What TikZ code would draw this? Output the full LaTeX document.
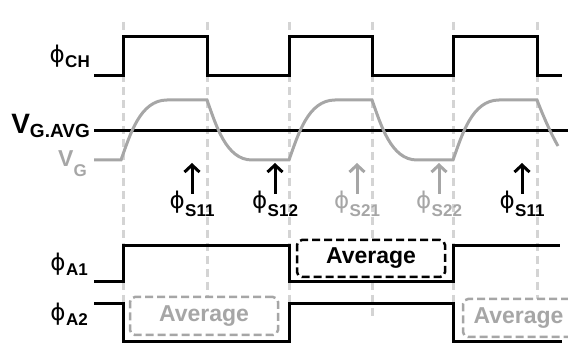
\documentclass[tikz,border=0pt]{standalone}
\usepackage{fontspec}
\setmainfont{Liberation Sans}
\newfontfamily\phifont{DejaVu Sans}
\usetikzlibrary{arrows.meta}
\definecolor{wgray}{HTML}{A6A6A6}
\definecolor{lgray}{HTML}{D4D4D4}
\newcommand{\PhiSub}[2][5pt]{{\phifont\fontsize{23}{23}\selectfont ϕ}\kern0.5pt\raisebox{-#1}{\fontsize{17}{17}\selectfont\bfseries #2}}
\begin{document}
\begin{tikzpicture}[x=1pt,y=-1pt,
  guide/.style={draw=lgray,line width=3pt,dash pattern=on 8pt off 5pt},
  wave/.style={draw=black,line width=3pt,line join=miter},
  gwave/.style={draw=wgray,line width=3pt},
  arr/.style={line width=3pt,-{Straight Barb[length=7pt,width=15pt]}},
  lbl/.style={inner sep=0pt,anchor=base east},
  slbl/.style={inner sep=0pt,anchor=base},
  avgbox/.style={draw,fill=white,rounded corners=5pt,line width=2.5pt,dash pattern=on 8pt off 4pt,
     minimum height=38pt,inner sep=0pt,font=\fontsize{23}{23}\selectfont\bfseries}]
\useasboundingbox (0,0) rectangle (568,347);
\clip (0,0) rectangle (568,347);
% guide lines
\foreach \x in {123,207,289,372,453,537} \draw[guide] (\x,22) -- (\x,318);
% phi CH
\draw[wave] (94,76) -- (123,76) -- (123,37) -- (207,37) -- (207,76) -- (289,76) -- (289,37) -- (372,37) -- (372,76) -- (453,76) -- (453,37) -- (537,37) -- (537,76) -- (562,76);
% V_G average
\draw[wave] (94,131) -- (568,131);
% V_G
\draw[gwave] (94,160) -- (121,160) .. controls (130,135) and (140,100) .. (167,100) -- (207,100)
  .. controls (216,125) and (226,160) .. (252,160) -- (289,160)
  .. controls (298,135) and (308,100) .. (335,100) -- (372,100)
  .. controls (381,125) and (391,160) .. (417,160) -- (453,160)
  .. controls (462,135) and (472,100) .. (499,100) -- (537,100)
  .. controls (542,113) and (550,132) .. (558,146);
% phi A1, A2
\draw[wave] (94,282) -- (123,282) -- (123,246) -- (289,246) -- (289,282) -- (453,282) -- (453,246) -- (560,246);
\draw[wave] (94,304) -- (123,304) -- (123,342) -- (289,342) -- (289,304) -- (453,304) -- (453,342) -- (562,342);
% left labels
\node[lbl] (lch) at (90,63) {\PhiSub{CH}};
\node[lbl] (lavg) at (90,134) {{\fontsize{28}{28}\selectfont\bfseries V}\raisebox{-4pt}{\fontsize{19}{19}\selectfont\bfseries G.AVG}};
\node[lbl,text=wgray] (lvg) at (87,167) {{\fontsize{23}{23}\selectfont\bfseries V}\raisebox{-10pt}{\fontsize{17}{17}\selectfont\bfseries G}};
\node[lbl] (la1) at (88,271) {\PhiSub{A1}};
\node[lbl] (la2) at (88,321) {\PhiSub{A2}};
% sampling arrows
\foreach \x/\n/\c/\s in {192/1/black/S11,275/2/black/S12,357/3/wgray/S21,439/4/wgray/S22,522/5/black/S11}{
  \coordinate (ab\n) at (\x,194);
  \coordinate (at\n) at (\x,163);
  \draw[arr,draw=\c] (ab\n) -- (at\n);
  \node[slbl,text=\c] (s\n) at (\x,209) {\PhiSub[8pt]{\s}};
}
% average boxes
\node[avgbox,draw=wgray,text=wgray,minimum width=148pt] (b1) at (204,316) {Average};
\node[avgbox,draw=black,minimum width=148pt,minimum height=37pt] (b2) at (371,258.5) {Average};
\node[avgbox,draw=wgray,text=wgray,minimum width=111pt] (b3) at (518.5,318) {Average};
\end{tikzpicture}
\end{document}
